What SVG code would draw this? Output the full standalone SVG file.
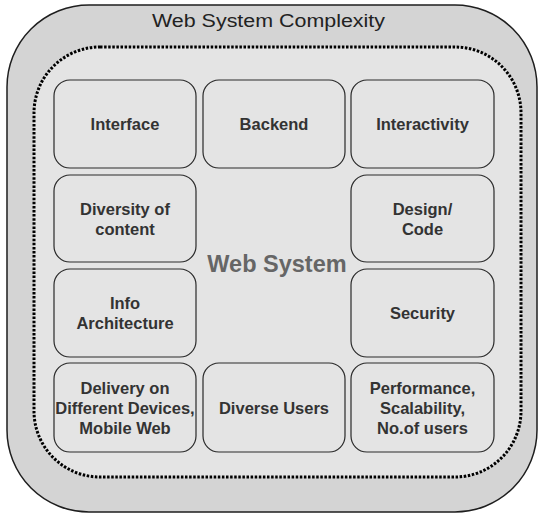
<svg xmlns="http://www.w3.org/2000/svg" width="539" height="514" viewBox="0 0 539 514">
<style>
.node rect{fill:#e4e4e4;stroke:#2a2a2a;stroke-width:1.2}
.node text{font-family:"Liberation Sans",Arial,sans-serif;font-weight:bold;font-size:16.5px;fill:#333;text-anchor:middle}
</style>
<rect width="539" height="514" fill="#ffffff"/>
<g id="outer">
<rect x="7" y="5" width="530" height="507" rx="82" ry="82" fill="#d4d4d4" stroke="#1e1e1e" stroke-width="1.5"/>
<text x="268.5" y="27" font-family="Liberation Sans,Arial,sans-serif" font-size="18" fill="#222" text-anchor="middle" textLength="233" lengthAdjust="spacingAndGlyphs">Web System Complexity</text>
</g>
<g id="web-system">
<rect x="34" y="47" width="487" height="430" rx="66" ry="66" fill="#e4e4e4" stroke="#000" stroke-width="3" stroke-dasharray="2.5 1.6"/>
<text x="277" y="272" font-family="Liberation Sans,Arial,sans-serif" font-weight="bold" font-size="23.5" fill="#666" text-anchor="middle">Web System</text>
</g>
<g id="connectors"></g>
<g id="interface" class="node"><rect x="54" y="80" width="142" height="88" rx="16"/><text x="125" y="130">Interface</text></g>
<g id="backend" class="node"><rect x="203" y="80" width="142" height="88" rx="16"/><text x="274" y="130">Backend</text></g>
<g id="interactivity" class="node"><rect x="351" y="80" width="143" height="88" rx="16"/><text x="422.5" y="130">Interactivity</text></g>
<g id="diversity" class="node"><rect x="54" y="175" width="142" height="87" rx="16"/><text x="125" y="214.5">Diversity of</text><text x="125" y="234.5">content</text></g>
<g id="design" class="node"><rect x="351" y="175" width="143" height="87" rx="16"/><text x="422.5" y="214.5">Design/</text><text x="422.5" y="234.5">Code</text></g>
<g id="info" class="node"><rect x="54" y="269" width="142" height="88" rx="16"/><text x="125" y="309">Info</text><text x="125" y="329">Architecture</text></g>
<g id="security" class="node"><rect x="351" y="269" width="143" height="88" rx="16"/><text x="422.5" y="319">Security</text></g>
<g id="delivery" class="node"><rect x="54" y="363" width="142" height="89" rx="16"/><text x="125" y="393.5">Delivery on</text><text x="125" y="413.5">Different Devices,</text><text x="125" y="433.5">Mobile Web</text></g>
<g id="users" class="node"><rect x="203" y="363" width="142" height="89" rx="16"/><text x="274" y="413.5">Diverse Users</text></g>
<g id="performance" class="node"><rect x="351" y="363" width="143" height="89" rx="16"/><text x="422.5" y="393.5">Performance,</text><text x="422.5" y="413.5">Scalability,</text><text x="422.5" y="433.5">No.of users</text></g>
</svg>
